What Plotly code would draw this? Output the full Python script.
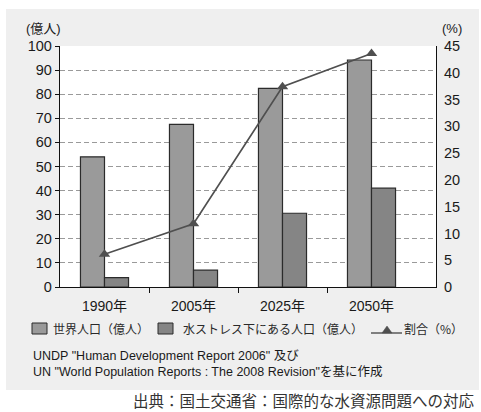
import plotly.graph_objects as go

# Values (population in 100 million people, share in %)
years = ["1990年", "2005年", "2025年", "2050年"]
world_pop = [54, 67.5, 82.4, 94.2]
stress_pop = [3.9, 7, 30.6, 41]
stress_share = [6.1, 11.8, 37.4, 43.6]

pop_ticks = list(range(0, 101, 10))
share_ticks = list(range(0, 46, 5))

W, H = 481, 412
L, R, T, B = 60, 45, 46, 125
PW, PH = W - L - R, H - T - B


def px(x):
    return (x - L) / PW


def py(y):
    return (H - B - y) / PH


FONT_NUM = "Liberation Sans, Arial, sans-serif"
FONT_JP = "Noto Sans CJK JP, sans-serif"
C_WORLD = "#9a9a9a"
C_STRESS = "#858585"
C_EDGE = "#2b2b2b"
C_LINE = "#4f4f4f"
xs = list(range(len(years)))

fig = go.Figure()
fig.add_trace(go.Bar(
    x=xs, y=world_pop, name="世界人口（億人）",
    marker=dict(color=C_WORLD, line=dict(color=C_EDGE, width=1.2)),
    showlegend=False,
))
fig.add_trace(go.Bar(
    x=xs, y=stress_pop, name="水ストレス下にある人口（億人）",
    marker=dict(color=C_STRESS, line=dict(color=C_EDGE, width=1.2)),
    showlegend=False,
))
fig.add_trace(go.Scatter(
    x=xs, y=stress_share, yaxis="y2", name="割合（%）",
    mode="lines+markers",
    line=dict(color=C_LINE, width=1.6),
    marker=dict(symbol="triangle-up", size=10, color=C_LINE),
    showlegend=False,
))

shapes = [
    # grey panel behind the whole chart
    dict(type="rect", xref="paper", yref="paper", layer="below",
         x0=px(6), x1=px(479), y0=py(390), y1=py(9),
         fillcolor="#efefef", line=dict(width=0)),
    # white plotting area
    dict(type="rect", xref="paper", yref="paper", layer="below",
         x0=0, x1=1, y0=0, y1=1, fillcolor="white", line=dict(width=0)),
    # legend swatches
    dict(type="rect", xref="paper", yref="paper",
         x0=px(32), x1=px(47), y0=py(334), y1=py(323),
         fillcolor=C_WORLD, line=dict(color=C_EDGE, width=1)),
    dict(type="rect", xref="paper", yref="paper",
         x0=px(158), x1=px(173), y0=py(334), y1=py(323),
         fillcolor=C_STRESS, line=dict(color=C_EDGE, width=1)),
    dict(type="line", xref="paper", yref="paper",
         x0=px(371), x1=px(402), y0=py(333), y1=py(333),
         line=dict(color=C_LINE, width=1.4)),
    dict(type="path", xref="paper", yref="paper",
         path=f"M {px(382)},{py(333)} L {px(392)},{py(333)} L {px(387)},{py(326)} Z",
         fillcolor=C_LINE, line=dict(color=C_LINE, width=0.5)),
]

annotations = [
    dict(text="(億人)", x=px(43.5), y=py(28), xref="paper", yref="paper",
         xanchor="center", yanchor="middle", showarrow=False,
         font=dict(family=FONT_NUM + ", " + FONT_JP, size=13, color="#1a1a1a")),
    dict(text="(%)", x=px(451.5), y=py(28), xref="paper", yref="paper",
         xanchor="center", yanchor="middle", showarrow=False,
         font=dict(family=FONT_NUM, size=13, color="#1a1a1a")),
    dict(text="世界人口（億人）", x=px(51), y=py(328), xref="paper", yref="paper",
         xanchor="left", yanchor="middle", showarrow=False,
         font=dict(family=FONT_JP, size=12, color="#2a2a2a")),
    dict(text="水ストレス下にある人口（億人）", x=px(181), y=py(328), xref="paper", yref="paper",
         xanchor="left", yanchor="middle", showarrow=False,
         font=dict(family=FONT_JP, size=12, color="#2a2a2a")),
    dict(text="割合（%）", x=px(402), y=py(328), xref="paper", yref="paper",
         xanchor="left", yanchor="middle", showarrow=False,
         font=dict(family=FONT_JP, size=12, color="#2a2a2a")),
    dict(text='UNDP "Human Development Report 2006" 及び<br>'
              'UN "World Population Reports : The 2008 Revision"を基に作成',
         x=px(31), y=py(363.5), xref="paper", yref="paper",
         xanchor="left", yanchor="middle", align="left", showarrow=False,
         font=dict(family=FONT_NUM + ", " + FONT_JP, size=12.5, color="#1a1a1a")),
    dict(text="出典：国土交通省：国際的な水資源問題への対応",
         x=px(131), y=py(400), xref="paper", yref="paper",
         xanchor="left", yanchor="middle", showarrow=False,
         font=dict(family=FONT_JP, size=15.5, color="#333")),
]

x_range = [-0.5, -0.5 + PW / 89.0]

fig.update_layout(
    width=W, height=H,
    margin=dict(l=L, r=R, t=T, b=B, pad=0),
    paper_bgcolor="white",
    plot_bgcolor="rgba(0,0,0,0)",
    barmode="group", bargap=0.46, bargroupgap=0,
    shapes=shapes, annotations=annotations,
    xaxis=dict(
        range=x_range, tickmode="array", tickvals=xs, ticktext=years,
        ticks="", showgrid=False, zeroline=False,
        showline=True, linecolor="#111", linewidth=1.3,
        tickfont=dict(family=FONT_NUM + ", " + FONT_JP, size=14, color="#1a1a1a"),
        ticklabelstandoff=6,
        minor=dict(tickmode="array", tickvals=[0.5, 1.5, 2.5],
                   ticks="outside", ticklen=5, tickcolor="#111", tickwidth=1.2,
                   showgrid=False),
    ),
    yaxis=dict(
        range=[0, 100], tickmode="array", tickvals=pop_ticks,
        ticks="outside", ticklen=4, tickcolor="#111", tickwidth=1.2,
        showline=True, linecolor="#111", linewidth=1.3,
        showgrid=True, gridcolor="#9a9a9a", gridwidth=1, griddash="5px,3px",
        zeroline=False,
        tickfont=dict(family=FONT_NUM, size=14.5, color="#1a1a1a"),
    ),
    yaxis2=dict(
        range=[0, 45], overlaying="y", side="right", anchor="x",
        tickmode="array", tickvals=share_ticks, ticks="",
        showline=True, linecolor="#111", linewidth=1.3,
        showgrid=False, zeroline=False, ticklabelstandoff=4,
        tickfont=dict(family=FONT_NUM, size=14.5, color="#1a1a1a"),
    ),
)

fig.write_html("out.html")
